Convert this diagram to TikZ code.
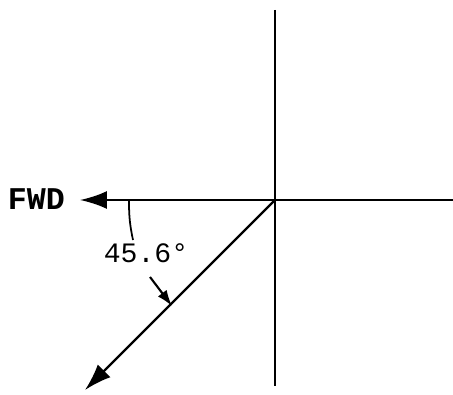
\documentclass[tikz,border=0pt]{standalone}
\usepackage{fontspec}
\newfontfamily\typefont{Liberation Mono}
\usetikzlibrary{arrows.meta,positioning,calc}

\begin{document}
\begin{tikzpicture}[x=0.02cm,y=-0.02cm,
  axis/.style={line width=1.2pt},
  bigarrow/.style={line width=1.3pt,-{Latex[length=5.4mm,width=3.6mm]}},
  smallarrow/.style={line width=1.2pt,-{Latex[length=3.2mm,width=2.2mm]}},
  lbl/.style={font=\fontsize{16}{18}\selectfont\typefont,inner sep=1pt}]
 \useasboundingbox (0,0) rectangle (453,395);

 % ---- axes ----
 \coordinate (O) at (275,200);
 \coordinate (top) at (275,10);
 \coordinate (bot) at (275,386);
 \coordinate (right) at (453,200);
 \coordinate (fwdtip) at (80,200);
 \coordinate (diagtip) at (85,390);
 \draw[axis] (top) -- (bot);
 \draw[bigarrow] (right) -- (fwdtip);
 \draw[bigarrow] (O) -- (diagtip);

 % ---- labels ----
 \node[lbl,font=\fontsize{18}{20}\selectfont\typefont\bfseries,anchor=east] (fwd) at (67,199) {FWD};
 \node[lbl] (ang) at (146,253) {45.6°};
 \coordinate (leadtop) at (129,201);
 \coordinate (leadbot) at (133,240);
 \draw[axis,line width=1pt] (leadtop) to[bend right=6] (leadbot);
 \coordinate (arrstart) at (150,277);
 \coordinate (arrtip) at (172,306);
 \draw[smallarrow] (arrstart) -- (arrtip);
\end{tikzpicture}
\end{document}
